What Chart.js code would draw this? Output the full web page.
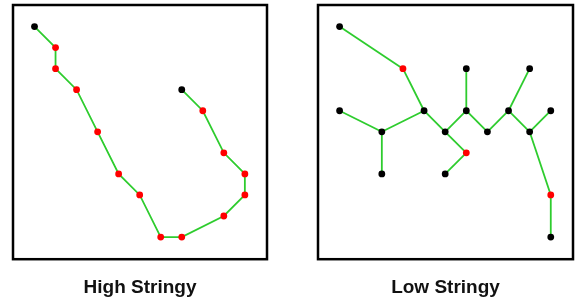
<!DOCTYPE html>
<html>
<head>
<meta charset="utf-8">
<script src="https://cdn.jsdelivr.net/npm/chart.js@4/dist/chart.umd.min.js"></script>
<style>
  body { margin: 0; background: #fff; }
  #wrap { position: relative; width: 580px; height: 302px; }
  .panel { position: absolute; top: 0; width: 290px; height: 302px; }
</style>
</head>
<body>
<div id="wrap">
  <div class="panel" style="left:0"><canvas id="left" width="290" height="302"></canvas></div>
  <div class="panel" style="left:290px"><canvas id="right" width="290" height="302"></canvas></div>
</div>
<script>
// grid coordinates, y counted from the top
var highX = [0, 1, 1, 2, 3, 4, 5, 6, 7, 9, 10, 10, 9, 8, 7];
var highY = [0, 1, 2, 3, 5, 7, 8, 10, 10, 9, 8, 7, 6, 4, 3];

var lowNodes = [
    [0, 0], [3, 2], [6, 2], [9, 2],
    [0, 4], [4, 4], [6, 4], [8, 4], [10, 4],
    [2, 5], [5, 5], [7, 5], [9, 5],
    [6, 6], [2, 7], [5, 7], [10, 8], [10, 10]
];
var lowRed = [1, 13, 16];
var lowEdges = [
    [0, 1], [1, 5], [4, 9], [9, 5], [9, 14], [5, 10], [10, 6], [6, 2],
    [6, 11], [11, 7], [7, 3], [7, 12], [12, 8], [12, 16], [16, 17],
    [10, 13], [13, 15]
];

var panelTitles = ['High Stringy', 'Low Stringy'];

var green = '#2ecc2e';

var frame = {
    id: 'frame',
    afterDraw: function(chart) {
        var a = chart.chartArea;
        var ctx = chart.ctx;
        ctx.save();
        ctx.strokeStyle = '#000';
        ctx.lineWidth = 2.5;
        ctx.strokeRect(a.left + 1, a.top + 1, a.right - a.left - 2, a.bottom - a.top - 2);
        ctx.restore();
    }
};

function makeOptions(title, padLeft, padRight) {
    return {
        responsive: false,
        animation: false,
        layout: { padding: { left: padLeft, right: padRight, top: 3, bottom: 0 } },
        plugins: {
            legend: { display: false },
            tooltip: { enabled: false },
            title: {
                display: true,
                position: 'bottom',
                text: title,
                color: '#111',
                font: { family: 'Liberation Sans, Arial, sans-serif', size: 19, weight: 'bold' },
                padding: { top: 16, bottom: 3 }
            }
        },
        scales: {
            x: { type: 'linear', display: false, min: -1.07, max: 11.1 },
            y: { type: 'linear', display: false, min: -1.07, max: 11.1, reverse: true }
        }
    };
}

// left panel: one path
var highPts = highX.map(function(x, i) { return { x: x, y: highY[i] }; });
var highColors = highPts.map(function(p, i) {
    return (i == 0 || i == highPts.length - 1) ? '#000000' : '#ff0000';
});

new Chart(document.getElementById('left'), {
    type: 'scatter',
    data: {
        datasets: [{
            data: highPts,
            showLine: true,
            borderColor: green,
            borderWidth: 1.8,
            pointRadius: 3.4,
            pointBackgroundColor: highColors,
            pointBorderWidth: 0
        }]
    },
    options: makeOptions(panelTitles[0], 12, 22),
    plugins: [frame]
});

// right panel: tree, nodes first so they sit on top of the edges
var lowSets = [{
    data: lowNodes.map(function(n) { return { x: n[0], y: n[1] }; }),
    showLine: false,
    pointRadius: 3.4,
    pointBackgroundColor: lowNodes.map(function(n, i) {
        return lowRed.indexOf(i) >= 0 ? '#ff0000' : '#000000';
    }),
    pointBorderWidth: 0
}];
lowEdges.forEach(function(e) {
    lowSets.push({
        data: [
            { x: lowNodes[e[0]][0], y: lowNodes[e[0]][1] },
            { x: lowNodes[e[1]][0], y: lowNodes[e[1]][1] }
        ],
        showLine: true,
        borderColor: green,
        borderWidth: 1.8,
        pointRadius: 0
    });
});

new Chart(document.getElementById('right'), {
    type: 'scatter',
    data: { datasets: lowSets },
    options: makeOptions(panelTitles[1], 27, 6),
    plugins: [frame]
});
</script>
</body>
</html>
